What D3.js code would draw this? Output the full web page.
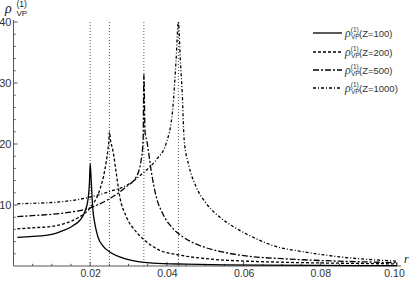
<!DOCTYPE html>
<html><head><meta charset="utf-8">
<script src="https://cdn.jsdelivr.net/npm/d3@7"></script>
<style>
html,body{margin:0;padding:0;background:#fff;}
svg{display:block;font-family:"Liberation Sans",Arial,sans-serif;}
</style></head>
<body><svg id="c" width="416" height="281"></svg>
<script>
// ---- data ----
const xTicks = [0.02, 0.04, 0.06, 0.08, 0.10];
const xTickLabels = ["0.02", "0.04", "0.06", "0.08", "0.10"];
const yTicks = [10, 20, 30, 40];
const yTickLabels = ["10", "20", "30", "40"];
const peakRadii = [0.020, 0.025, 0.034, 0.043];
const seriesNames = ["Z=100", "Z=200", "Z=500", "Z=1000"];

const z100 = [[0.001,4.7],[0.005,4.85],[0.01,5.2],[0.0121,5.6],[0.0155,6.6],[0.0173,7.5],[0.0186,8.9],[0.0194,10.8],
  [0.0198,13.6],[0.02,16.8],[0.0203,13.5],[0.0207,9.2],[0.0212,7.0],[0.022,4.8],[0.0233,3.3],[0.0251,2.3],
  [0.0277,1.5],[0.0311,0.87],[0.0363,0.46],[0.045,0.3],[0.055,0.2],[0.065,0.15],[0.08,0.1],[0.1,0.06]];
const z200 = [[0.001,6.1],[0.006,6.3],[0.01,6.5],[0.0135,7.0],[0.0168,7.9],[0.0199,9.5],[0.0225,12.5],[0.0238,15.7],
  [0.0246,19],[0.0249,20.8],[0.025,22],[0.0253,20.6],[0.0259,19],[0.0268,15.2],[0.0277,11.4],[0.0294,8.1],[0.032,5.6],
  [0.0346,4.0],[0.038,2.6],[0.0432,1.8],[0.051,1.15],[0.0606,0.8],[0.07,0.62],[0.08,0.5],[0.09,0.42],[0.1,0.35]];
const z500 = [[0.001,8.1],[0.006,8.3],[0.012,8.6],[0.0207,9.7],[0.025,11.0],[0.0294,13],[0.032,14.6],[0.0333,17.4],
  [0.0338,20.6],[0.034,31.4],[0.0343,22],[0.0348,20.4],[0.036,15.2],[0.0372,11.4],[0.0389,8.6],[0.0415,6.2],
  [0.0441,4.8],[0.0484,3.4],[0.0545,2.3],[0.0614,1.6],[0.07,1.2],[0.08,0.9],[0.09,0.7],[0.1,0.55]];
const z1000 = [[0.001,10.2],[0.006,10.3],[0.012,10.5],[0.02,11.3],[0.025,12.2],[0.03,13.4],[0.0337,15.2],[0.0372,17.4],
  [0.0398,20.1],[0.0415,25.6],[0.0424,33.8],[0.043,40],[0.0435,33.8],[0.044,28.3],[0.0445,20.7],[0.0458,16.3],
  [0.0476,13],[0.0502,10.3],[0.0536,8.1],[0.058,6.2],[0.0632,4.5],[0.0684,3.2],[0.075,2.4],[0.085,1.5],[0.1,0.8]];
const seriesData = [z100, z200, z500, z1000];

// ---- styles ----
const dashes = [null, "3,2", "6,2,2,2", "3,2,1,2"];

const svg = d3.select("#c");
const x = d3.scaleLinear().domain([0, 0.1]).range([13.5, 397]);
const y = d3.scaleLinear().domain([0, 40]).range([266, 22]);
const axisColor = "#555";

// vertical dotted lines at peak radii
svg.append("g").selectAll("line").data(peakRadii).join("line")
  .attr("x1", d => x(d)).attr("x2", d => x(d))
  .attr("y1", y(0)).attr("y2", y(40.2))
  .attr("stroke", "#444").attr("stroke-width", 0.9).attr("stroke-dasharray", "1,2");

// x axis
const xMinor = d3.range(0.005, 0.1001, 0.005).filter(v => Math.abs(Math.round(v/0.02)*0.02 - v) > 1e-6);
const gx = svg.append("g").attr("transform", `translate(0,${y(0)})`);
gx.call(d3.axisBottom(x).tickValues(xTicks).tickFormat((d,i) => xTickLabels[i]).tickSize(0).tickPadding(4));
gx.select(".domain").remove();
gx.selectAll("text").attr("font-size", 10.5).attr("fill", "#333").attr("font-family", "Liberation Sans, Arial, sans-serif")
  .attr("dx", (d,i) => i === xTicks.length - 1 ? -3 : 0);
gx.append("line").attr("x1", x(0)).attr("x2", 401).attr("stroke", axisColor).attr("stroke-width", 1);
gx.selectAll(".maj").data(xTicks).join("line").attr("class","maj")
  .attr("x1", d => x(d)).attr("x2", d => x(d)).attr("y1", 0).attr("y2", -4).attr("stroke", axisColor);
gx.selectAll(".min").data(xMinor).join("line").attr("class","min")
  .attr("x1", d => x(d)).attr("x2", d => x(d)).attr("y1", 0).attr("y2", -2.2).attr("stroke", axisColor);

// y axis
const yMinor = d3.range(2, 40, 2).filter(v => v % 10 !== 0);
const gy = svg.append("g").attr("transform", `translate(${x(0)},0)`);
gy.call(d3.axisLeft(y).tickValues(yTicks).tickFormat((d,i) => yTickLabels[i]).tickSize(0).tickPadding(2));
gy.select(".domain").remove();
gy.selectAll("text").attr("font-size", 11).attr("fill", "#333").attr("font-family", "Liberation Sans, Arial, sans-serif");
gy.append("line").attr("y1", y(0)).attr("y2", 20).attr("stroke", axisColor).attr("stroke-width", 1);
gy.selectAll(".maj").data(yTicks).join("line").attr("class","maj")
  .attr("y1", d => y(d)).attr("y2", d => y(d)).attr("x1", 0).attr("x2", 4).attr("stroke", axisColor);
gy.selectAll(".min").data(yMinor).join("line").attr("class","min")
  .attr("y1", d => y(d)).attr("y2", d => y(d)).attr("x1", 0).attr("x2", 2.2).attr("stroke", axisColor);

// axis titles
const yt = svg.append("text").attr("fill", "#222");
yt.append("tspan").attr("x", 5).attr("y", 13).attr("font-size", 14).attr("font-style", "italic")
  .attr("font-family","Liberation Serif, serif").text("ρ");
yt.append("tspan").attr("x", 16.5).attr("y", 7).attr("font-size", 8.5).text("(1)");
yt.append("tspan").attr("x", 16.5).attr("y", 16).attr("font-size", 8).text("VP");
svg.append("text").attr("x", 404).attr("y", 263).attr("font-size", 12).attr("font-style", "italic")
  .attr("font-family","Liberation Serif, serif").attr("fill", "#222").text("r");

// series lines
const line = d3.line().x(d => x(d[0])).y(d => y(d[1])).curve(d3.curveMonotoneX);
svg.append("g").selectAll("path").data(seriesData).join("path")
  .attr("d", line).attr("fill", "none").attr("stroke", "#000").attr("stroke-width", 1.3)
  .attr("stroke-dasharray", (d,i) => dashes[i]);

// legend
const legY = [33, 52, 70, 88];
const lg = svg.append("g").selectAll("g").data(seriesNames).join("g")
  .attr("transform", (d,i) => `translate(313,${legY[i]})`);
lg.append("line").attr("x1", 0).attr("x2", 29).attr("stroke", "#000").attr("stroke-width", 1.3)
  .attr("stroke-dasharray", (d,i) => dashes[i]);
const lt = lg.append("text").attr("x", 32).attr("y", 4).attr("fill", "#333").attr("font-size", 9.5);
lt.append("tspan").attr("font-style", "italic").attr("font-size", 12).attr("font-family","Liberation Serif, serif").text("ρ");
lt.append("tspan").attr("font-size", 6.5).attr("dy", -5).text("(1)");
lt.append("tspan").attr("font-size", 6.5).attr("x", 38).attr("dy", 7).text("VP");
lt.append("tspan").attr("x", 46).attr("dy", -2).text(d => "(" + d + ")");
</script></body></html>
